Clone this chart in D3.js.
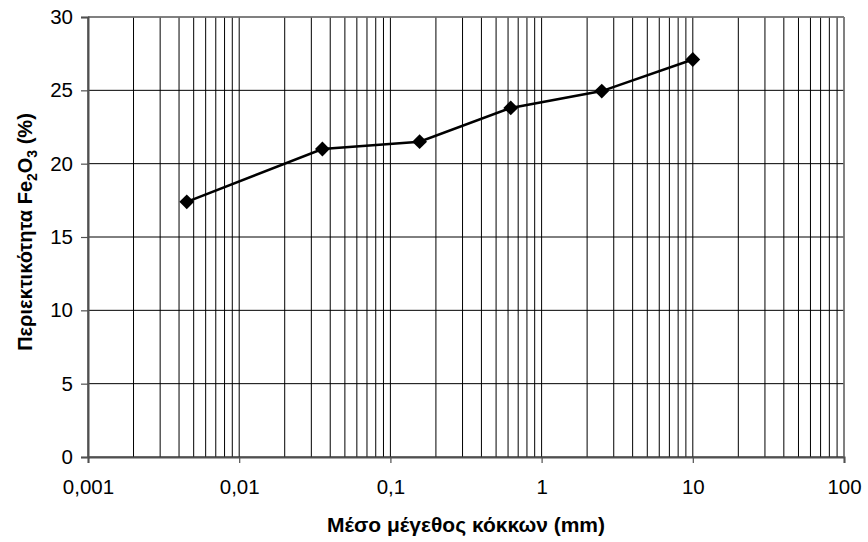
<!DOCTYPE html>
<html>
<head>
<meta charset="utf-8">
<script src="https://cdn.jsdelivr.net/npm/d3@7"></script>
<style>
  body { margin: 0; background: #fff; }
  svg text { font-family: "Liberation Sans", Arial, sans-serif; fill: #000; }
</style>
</head>
<body>
<svg id="chart" width="868" height="542"></svg>
<script>
// data
const grainSize = [0.0045, 0.0355, 0.156, 0.625, 2.5, 10];
const fe2o3 = [17.4, 21.0, 21.5, 23.8, 24.95, 27.1];
const xTickValues = [0.001, 0.01, 0.1, 1, 10, 100];
const xTickLabels = ['0,001', '0,01', '0,1', '1', '10', '100'];
const yTickValues = [0, 5, 10, 15, 20, 25, 30];

const margin = { left: 88, top: 17, right: 24, bottom: 85 };
const width = 868 - margin.left - margin.right;
const height = 542 - margin.top - margin.bottom;

const svg = d3.select('#chart');
const g = svg.append('g').attr('transform', 'translate(' + [margin.left, margin.top] + ')');

const x = d3.scaleLog().domain([0.001, 100]).range([0, width]);
const y = d3.scaleLinear().domain([0, 30]).range([height, 0]);

// minor + major vertical gridlines (1..9 per decade)
var vLines = [];
xTickValues.slice(0, -1).forEach(function(d) {
    for (let k = 1; k <= 9; k++) vLines.push(d * k);
});
vLines.push(100);

g.selectAll('.vgrid')
    .data(vLines)
    .enter()
    .append('line')
    .attr('class', 'vgrid')
    .attr('x1', d => x(d)).attr('x2', d => x(d))
    .attr('y1', 0).attr('y2', height)
    .style('stroke', '#000')
    .style('stroke-width', 1);

g.selectAll('.hgrid')
    .data(yTickValues)
    .enter()
    .append('line')
    .attr('class', 'hgrid')
    .attr('x1', 0).attr('x2', width)
    .attr('y1', d => y(d)).attr('y2', d => y(d))
    .style('stroke', '#000')
    .style('stroke-width', 1);

// frame
g.append('line').attr('x1', 0).attr('x2', width).attr('y1', 0).attr('y2', 0)
    .style('stroke', '#808080').style('stroke-width', 1.5);
g.append('line').attr('x1', width).attr('x2', width).attr('y1', 0).attr('y2', height)
    .style('stroke', '#808080').style('stroke-width', 1.5);

// axes
var yAxis = d3.axisLeft(y).tickValues(yTickValues).tickSize(7).tickPadding(8);
var yAxisG = g.append('g').attr('class', 'y axis').call(yAxis);

var xAxis = d3.axisBottom(x).tickValues(xTickValues)
    .tickFormat((d, i) => xTickLabels[i]).tickSize(6).tickPadding(16);
var xAxisG = g.append('g').attr('class', 'x axis')
    .attr('transform', 'translate(0,' + height + ')').call(xAxis);

[yAxisG, xAxisG].forEach(function(a) {
    a.attr('font-family', null);
    a.select('.domain').style('stroke', '#505050').style('stroke-width', 2);
    a.selectAll('.tick line').style('stroke', '#505050').style('stroke-width', 1.2);
    a.selectAll('.tick text').style('font-size', '20.5px');
});

// series
var points = grainSize.map((d, i) => ({ x: d, y: fe2o3[i] }));

g.append('path')
    .datum(points)
    .attr('d', d3.line().x(d => x(d.x)).y(d => y(d.y)))
    .style('fill', 'none')
    .style('stroke', '#000')
    .style('stroke-width', 2.5);

g.selectAll('.marker')
    .data(points)
    .enter()
    .append('path')
    .attr('class', 'marker')
    .attr('d', d3.symbol().type(d3.symbolDiamond2).size(140))
    .attr('transform', d => 'translate(' + [x(d.x), y(d.y)] + ')')
    .style('fill', '#000');

// labels
svg.append('text')
    .attr('transform', 'translate(' + [margin.left + width / 2, 532] + ')')
    .attr('text-anchor', 'middle')
    .style('font-size', '21px')
    .style('font-weight', 'bold')
    .text('Μέσο μέγεθος κόκκων (mm)');

var yLabel = svg.append('text')
    .attr('transform', 'translate(' + [32, 232] + ') rotate(-90)')
    .attr('text-anchor', 'middle')
    .style('font-size', '20px')
    .style('font-weight', 'bold');
yLabel.append('tspan').text('Περιεκτικότητα Fe');
yLabel.append('tspan').attr('dy', 5).style('font-size', '14px').text('2');
yLabel.append('tspan').attr('dy', -5).text('O');
yLabel.append('tspan').attr('dy', 5).style('font-size', '14px').text('3');
yLabel.append('tspan').attr('dy', -5).text(' (%)');
</script>
</body>
</html>
